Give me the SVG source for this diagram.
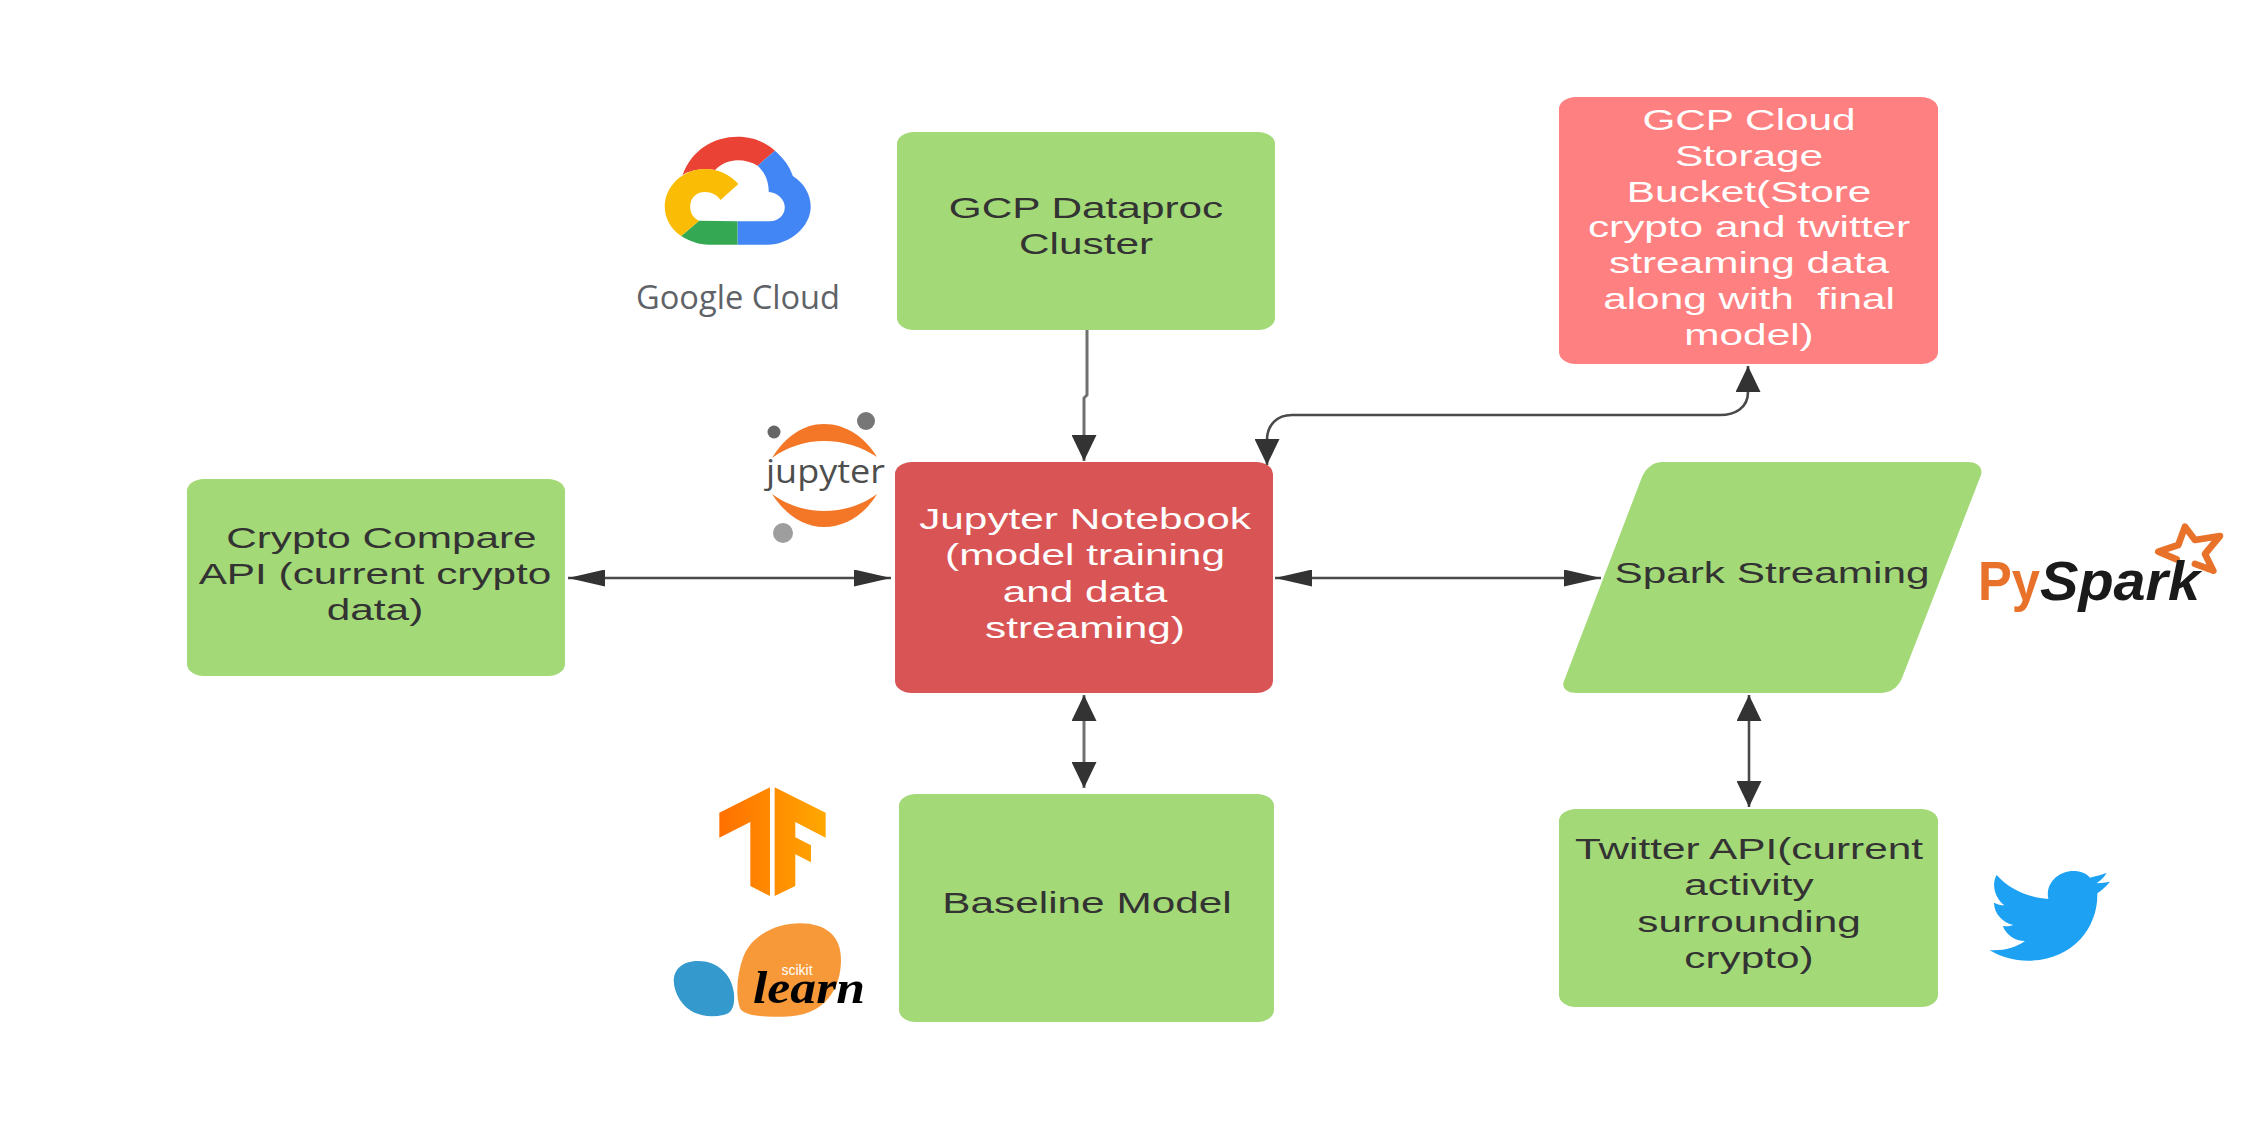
<svg xmlns="http://www.w3.org/2000/svg" width="2255" height="1121" viewBox="0 0 2255 1121">
<style>
.box{stroke:none}
.green{fill:#a3d977}
.red{fill:#d95555}
.pink{fill:#ff8080}
.t{font-family:"Liberation Sans",Arial,sans-serif;font-size:29px;text-anchor:middle;fill:#333;white-space:pre}
.w{fill:#fff}
.c{fill:none;stroke:#4a4a4a;stroke-width:2.6}
.g{stroke:#707070;stroke-width:3}
.ah{marker-start:url(#hs);marker-end:url(#hs)}
.av{marker-start:url(#vs);marker-end:url(#vs)}
</style>
<defs>
<marker id="hs" markerUnits="userSpaceOnUse" viewBox="0 0 37 17" markerWidth="37" markerHeight="17" refX="37" refY="8.5" orient="auto-start-reverse"><path d="M0 0L37 8.5L0 17Z" fill="#333"/></marker>
<marker id="vs" markerUnits="userSpaceOnUse" viewBox="0 0 26 25" markerWidth="26" markerHeight="25" refX="26" refY="12.5" orient="auto-start-reverse"><path d="M0 0L26 12.5L0 25Z" fill="#333"/></marker>
<linearGradient id="tf" gradientUnits="userSpaceOnUse" x1="238" y1="0" x2="557" y2="0"><stop offset="0" stop-color="#ff6f00"/><stop offset="1" stop-color="#ffa800"/></linearGradient>
</defs>
<rect width="2255" height="1121" fill="#fff"/>
<g id="connectors">
<path class="c g" d="M1087 330V395L1084 398V461" marker-end="url(#vs)"/>
<path class="c ah" d="M568 578H891"/>
<path class="c ah" d="M1275 578H1601"/>
<path class="c av" d="M1748 366V392C1748 408 1735 415 1720 415H1292C1277 415 1267 425 1267 440V465"/>
<path class="c g av" d="M1084 695V788"/>
<path class="c av" d="M1749 695V807"/>
</g>
<g id="node-dataproc"><rect class="box green" x="897" y="132" width="378" height="198" rx="17" ry="12"/>
<text class="t" transform="translate(1086 0) scale(1.46 1)"><tspan x="0" y="218">GCP Dataproc</tspan><tspan x="0" y="254">Cluster</tspan></text></g>
<g id="node-storage"><rect class="box pink" x="1559" y="97" width="379" height="267" rx="17" ry="12"/>
<text class="t w" transform="translate(1749 0) scale(1.46 1)"><tspan x="0" y="130">GCP Cloud</tspan><tspan x="0" y="166">Storage</tspan><tspan x="0" y="202">Bucket(Store</tspan><tspan x="0" y="237">crypto and twitter</tspan><tspan x="0" y="273">streaming data</tspan><tspan x="0" y="309">along with  final</tspan><tspan x="0" y="345">model)</tspan></text></g>
<g id="node-crypto"><rect class="box green" x="187" y="479" width="378" height="197" rx="17" ry="12"/>
<text class="t" transform="translate(375 0) scale(1.46 1)"><tspan x="4.4" y="548">Crypto Compare</tspan><tspan x="0" y="584">API (current crypto</tspan><tspan x="0" y="620">data)</tspan></text></g>
<g id="node-jupyter"><rect class="box red" x="895" y="462" width="378" height="231" rx="17" ry="12"/>
<text class="t w" transform="translate(1085 0) scale(1.46 1)"><tspan x="0" y="529">Jupyter Notebook</tspan><tspan x="0" y="565">(model training</tspan><tspan x="0" y="602">and data</tspan><tspan x="0" y="638">streaming)</tspan></text></g>
<g id="node-spark"><path class="box green" d="M1663 462H1968C1978 462 1983 468 1981 475L1902 678C1898 688 1890 693 1880 693H1577C1567 693 1561 688 1564 681L1642 477C1646 468 1653 462 1663 462Z"/>
<text class="t" transform="translate(1772 0) scale(1.46 1)"><tspan x="0" y="583">Spark Streaming</tspan></text></g>
<g id="node-baseline"><rect class="box green" x="899" y="794" width="375" height="228" rx="17" ry="12"/>
<text class="t" transform="translate(1087 0) scale(1.46 1)"><tspan x="0" y="913">Baseline Model</tspan></text></g>
<g id="node-twitter"><rect class="box green" x="1559" y="809" width="379" height="198" rx="17" ry="12"/>
<text class="t" transform="translate(1749 0) scale(1.46 1)"><tspan x="0" y="859">Twitter API(current</tspan><tspan x="0" y="895">activity</tspan><tspan x="0" y="932">surrounding</tspan><tspan x="0" y="968">crypto)</tspan></text></g>
<g id="logo-google">
<g transform="translate(600 100) scale(.4464 .3333)">
<path fill="#ea4335" d="M185 225C205 150 255 110 308 110C345 110 372 128 392 152L353 197C340 187 325 181 308 181C290 181 270 192 258 210C235 205 205 208 185 225Z"/>
<path fill="#4285f4" d="M392 152C412 175 425 200 432 228C458 250 472 285 472 320C472 380 425 434 375 434H308V364H380C400 364 414 345 414 322C414 298 398 278 378 276C378 245 370 218 353 197Z"/>
<path fill="#34a853" d="M222 362L308 364V434H245C220 434 198 422 182 408Z"/>
<path fill="#fbbc05" d="M235 207C265 207 292 225 310 252L270 300C263 285 250 276 235 276C215 276 202 295 202 320C202 340 210 355 222 362L182 408C160 390 145 355 145 320C145 260 185 207 235 207Z"/>
</g>
<text x="636" y="309" font-family="'Open Sans','Liberation Sans',sans-serif" font-size="33" font-weight="500" fill="#5f6368" textLength="204" lengthAdjust="spacingAndGlyphs">Google Cloud</text>
</g>
<g id="logo-jupyter">
<circle cx="774" cy="432" r="6.5" fill="#666"/><circle cx="866" cy="421" r="9" fill="#777"/><circle cx="783" cy="533" r="10" fill="#9e9e9e"/>
<path fill="#f37726" d="M772 458C785 437 803 424 824 424C846 424 865 437 877 457C862 447 844 441 824 441C805 441 787 447 772 458Z"/>
<path fill="#f37726" d="M772 494C787 505 805 511 824 511C844 511 862 505 877 494C865 514 846 527 824 527C803 527 785 514 772 494Z"/>
<text x="766" y="483" font-family="'Open Sans','Noto Sans',sans-serif" font-size="33" fill="#4e4e4e" textLength="119" lengthAdjust="spacingAndGlyphs">jupyter</text>
</g>
<g id="logo-tensorflow" transform="translate(640 760) scale(.3333)">
<path fill="url(#tf)" d="M390 82V408L331 378V186L238 233V158Z"/>
<path fill="url(#tf)" d="M404 82L557 158V233L466 186V232L513 256V307L466 283V378L404 408Z"/>
</g>
<g id="logo-sklearn">
<g transform="translate(640 760) scale(.3333)">
<path fill="#f89939" d="M480 490C560 490 603 530 603 600C603 680 560 770 430 770C370 770 315 770 300 745C285 700 292 640 310 590C335 525 410 490 480 490Z"/>
<path fill="#3499cd" d="M175 603C230 603 275 640 282 700C285 740 275 760 250 765C200 775 150 765 120 720C95 680 95 640 120 620C135 608 155 603 175 603Z"/>
</g>
<text x="797" y="975" font-family="'Liberation Sans',sans-serif" font-size="14" fill="#fff" text-anchor="middle">scikit</text>
<text x="753" y="1003" font-family="'Liberation Serif',serif" font-style="italic" font-weight="bold" font-size="46" fill="#000" textLength="112" lengthAdjust="spacingAndGlyphs">learn</text>
</g>
<g id="logo-pyspark">
<path transform="translate(1900 480) scale(.3333)" fill="none" stroke="#e8722a" stroke-width="20" stroke-linejoin="round" stroke-linecap="round" d="M830 238L775 215L835 195L855 140L885 180L960 168L915 222L940 272L885 252"/>
<text x="1978" y="600" font-family="'Liberation Sans',sans-serif" font-weight="bold" font-size="56" fill="#e8722a" textLength="62" lengthAdjust="spacingAndGlyphs">Py</text>
<text x="2040" y="600" font-family="'Liberation Sans',sans-serif" font-weight="bold" font-style="italic" font-size="56" fill="#1a1a1a" textLength="160" lengthAdjust="spacingAndGlyphs">Spark</text>
</g>
<g id="logo-twitter" transform="translate(1950 840) scale(.3333)">
<path fill="#1da1f2" d="M140 105C180 150 235 172 295 177C285 130 325 93 370 93C392 93 410 100 420 113C438 108 455 105 470 98C462 113 450 122 440 130C455 129 468 127 480 125C468 140 455 150 442 160C445 260 370 362 235 362C190 362 150 350 118 330C155 333 195 325 225 303C195 303 170 285 158 258C170 260 180 258 190 255C160 248 132 222 132 188C142 193 152 196 163 196C138 178 122 135 140 105Z"/>
</g>
</svg>
